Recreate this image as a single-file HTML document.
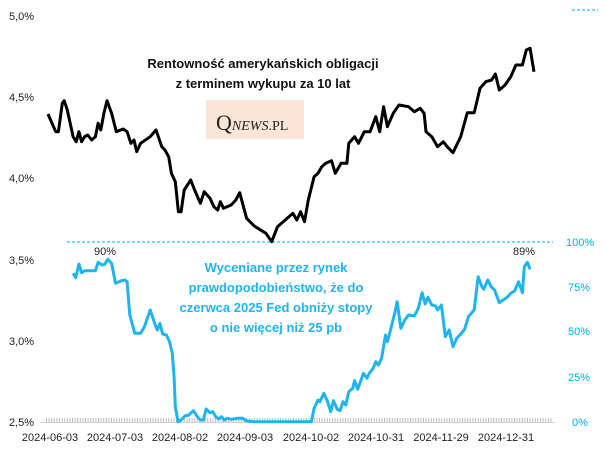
<!DOCTYPE html>
<html><head><meta charset="utf-8"><style>
body{margin:0;background:#fff;width:605px;height:454px;overflow:hidden}
svg text{font-family:"Liberation Sans",sans-serif}
</style></head><body>
<svg id="s" width="605" height="454" xmlns="http://www.w3.org/2000/svg">
<g font-size="11" fill="#222">
<text x="9" y="20">5,0%</text><text x="9" y="101">4,5%</text><text x="9" y="182">4,0%</text>
<text x="9" y="264">3,5%</text><text x="9" y="345">3,0%</text><text x="9" y="426">2,5%</text>
</g>
<g font-size="11" fill="#00b0f0">
<text x="566" y="246">100%</text><text x="568" y="335">50%</text><text x="568" y="291">75%</text>
<text x="568" y="381">25%</text><text x="572" y="426">0%</text>
</g>
<g font-size="11" fill="#222" text-anchor="middle">
<text x="50" y="441">2024-06-03</text><text x="115" y="441">2024-07-03</text><text x="180" y="441">2024-08-02</text>
<text x="245" y="441">2024-09-03</text><text x="311" y="441">2024-10-02</text><text x="376" y="441">2024-10-31</text>
<text x="441" y="441">2024-11-29</text><text x="506" y="441">2024-12-31</text>
</g>
<line x1="40" y1="422.5" x2="555" y2="422.5" stroke="#d0d0d0" stroke-width="1"/>
<line x1="46" y1="420" x2="553" y2="420" stroke="#bbb" stroke-width="4" stroke-dasharray="1 1.6"/>
<line x1="67" y1="242" x2="553" y2="242" stroke="#00b0f0" stroke-width="1" stroke-dasharray="3 2"/>
<line x1="572" y1="10" x2="598" y2="10" stroke="#00b0f0" stroke-width="1" stroke-dasharray="3 2"/>
<rect x="206" y="100" width="98" height="39" fill="#fbe5d6"/>
<text x="216" y="130" style="font-family:'Liberation Serif',serif" font-size="22" fill="#222">Q<tspan font-size="14" font-style="italic">NEWS</tspan><tspan font-size="14">.PL</tspan></text>
<g font-size="13" font-weight="bold" text-anchor="middle" fill="#111">
<text x="263" y="68">Rentowność amerykańskich obligacji</text>
<text x="263" y="88">z terminem wykupu za 10 lat</text>
</g>
<g font-size="13" font-weight="bold" text-anchor="middle" fill="#1fb4f0">
<text x="276" y="272">Wyceniane przez rynek</text>
<text x="276" y="292">prawdopodobieństwo, że do</text>
<text x="276" y="312">czerwca 2025 Fed obniży stopy</text>
<text x="276" y="332">o nie więcej niż 25 pb</text>
</g>
<text x="105" y="255" font-size="11" text-anchor="middle" fill="#222">90%</text>
<text x="524" y="255" font-size="11" text-anchor="middle" fill="#222">89%</text>
<polyline id="k" fill="none" stroke="#000" stroke-width="3" stroke-linejoin="round"/>
<polyline id="b" fill="none" stroke="#1fb4f0" stroke-width="3" stroke-linejoin="round"/>
</svg>
<script>
function X(z){return 48+(z-125)*0.3857}
var k=[[125,342],[145,395],[152,395],[162,310],[167,302],[175,330],[190,410],[198,425],[205,395],[212,425],[220,410],[228,405],[238,420],[248,410],[255,370],[262,390],[270,340],[278,302],[290,340],[302,395],[320,387],[330,395],[340,430],[348,420],[355,455],[365,430],[390,410],[405,390],[420,440],[428,450],[438,470],[445,520],[455,545],[463,635],[470,635],[478,570],[495,540],[505,570],[520,610],[530,575],[545,595],[555,620],[565,630],[572,605],[580,625],[600,615],[612,600],[622,578],[640,655],[660,678],[690,700],[705,725],[720,680],[740,660],[760,640],[770,660],[780,635],[790,665],[800,600],[815,530],[825,520],[835,500],[845,490],[860,482],[870,520],[885,490],[900,490],[905,430],[920,410],[930,430],[945,395],[960,395],[965,380],[975,350],[985,395],[995,320],[1005,380],[1020,340],[1035,315],[1060,320],[1075,335],[1090,325],[1100,340],[1105,395],[1120,410],[1135,440],[1150,425],[1160,440],[1175,458],[1195,410],[1212,338],[1230,338],[1245,265],[1260,245],[1275,240],[1285,222],[1295,270],[1310,255],[1325,230],[1338,195],[1355,195],[1365,150],[1375,145],[1385,215]];
var b=[[190,130],[197,143],[205,102],[212,128],[220,122],[235,122],[248,122],[255,97],[265,105],[272,103],[280,88],[290,100],[300,160],[315,152],[325,150],[330,155],[337,255],[350,310],[365,310],[375,290],[390,240],[400,275],[408,300],[415,280],[422,312],[432,315],[440,335],[447,368],[452,440],[455,530],[462,575],[470,570],[480,558],[490,555],[502,542],[512,560],[520,570],[528,570],[535,537],[545,548],[552,545],[560,560],[567,567],[575,560],[582,570],[590,565],[600,568],[615,565],[630,565],[640,573],[660,575],[808,575],[815,535],[825,510],[830,515],[840,490],[850,515],[858,545],[865,512],[875,538],[882,542],[890,515],[897,525],[905,485],[915,475],[920,452],[928,478],[935,455],[943,430],[952,445],[958,430],[968,415],[975,395],[982,405],[990,385],[1000,315],[1005,335],[1015,290],[1025,245],[1030,215],[1040,295],[1050,270],[1060,255],[1075,258],[1085,235],[1095,188],[1103,222],[1110,202],[1120,225],[1130,228],[1135,240],[1145,225],[1155,320],[1165,300],[1175,350],[1185,325],[1195,312],[1205,298],[1215,260],[1230,240],[1240,140],[1250,170],[1255,178],[1265,150],[1275,172],[1283,180],[1295,218],[1305,210],[1315,202],[1325,190],[1335,182],[1345,155],[1355,188],[1360,110],[1368,97],[1375,118]];
document.getElementById('k').setAttribute('points',k.map(p=>X(p[0]).toFixed(1)+','+(p[1]/3).toFixed(1)).join(' '));
document.getElementById('b').setAttribute('points',b.map(p=>X(p[0]).toFixed(1)+','+(230+p[1]/3).toFixed(1)).join(' '));
</script>
</body></html>
